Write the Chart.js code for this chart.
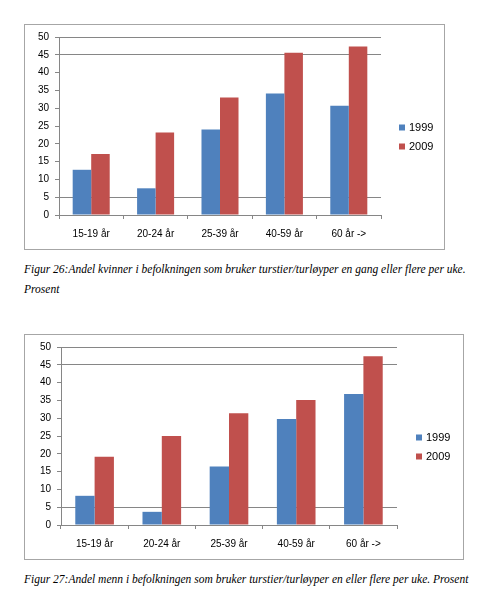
<!DOCTYPE html>
<html lang="no">
<head>
<meta charset="utf-8">
<title>Figur 26 og 27</title>
<script src="https://cdn.jsdelivr.net/npm/chart.js@4/dist/chart.umd.min.js"></script>
<style>
  html, body { margin: 0; padding: 0; background: #fff; }
  body { width: 499px; height: 595px; position: relative; overflow: hidden; }
  .frame { position: absolute; border: 1px solid #a6a6a6; background: #fff; }
  .frame canvas { display: block; }
  .caption {
    position: absolute; left: 24px; margin: 0;
    font: italic 11.5px "Liberation Serif", "Times New Roman", serif;
    color: #000; white-space: nowrap; line-height: 20px;
  }
</style>
</head>
<body>
<div class="frame" id="frame1" style="left:24px; top:24px; width:419px; height:224px;">
  <canvas id="chartWomen"></canvas>
</div>
<p class="caption" style="top:259px;">Figur 26:Andel kvinner i befolkningen som bruker turstier/turløyper en gang eller flere per uke.<br>Prosent</p>

<div class="frame" id="frame2" style="left:24px; top:334px; width:438px; height:224px;">
  <canvas id="chartMen"></canvas>
</div>
<p class="caption" style="top:569px;">Figur 27:Andel menn i befolkningen som bruker turstier/turløyper en eller flere per uke. Prosent</p>

<script>
const AGE_GROUPS = ['15-19 år', '20-24 år', '25-39 år', '40-59 år', '60 år ->'];
const YEARS = ['1999', '2009'];

// Figur 26 – kvinner
const WOMEN_1999 = [12.7, 7.5, 24.0, 34.1, 30.7];
const WOMEN_2009 = [17.1, 23.2, 33.0, 45.6, 47.3];

// Figur 27 – menn
const MEN_1999 = [8.2, 3.7, 16.4, 29.8, 36.8];
const MEN_2009 = [19.2, 25.0, 31.4, 35.1, 47.4];

const Y_TICKS = [0, 5, 10, 15, 20, 25, 30, 35, 40, 45, 50];
// only these gridlines survive in the scanned picture
const VISIBLE_GRID = [5, 45, 50];

const COLORS = ['#4f81bd', '#c0504d'];
const AXIS_GREY = '#868686';
const FONT = 'Liberation Sans, Arial, sans-serif';

// ── Legend drawn to the right of the plot ────────────────────────────────────

const sideLegend = {
  id: 'sideLegend',
  afterDraw(chart) {
    const { ctx, chartArea } = chart;
    const x = chartArea.right + chart.options.plugins.sideLegend.gap;
    const midY = chart.height / 2;
    const rowH = 19;
    const sets = chart.data.datasets;
    ctx.save();
    ctx.font = `11px ${FONT}`;
    ctx.textBaseline = 'middle';
    ctx.textAlign = 'left';
    sets.forEach((ds, i) => {
      const y = midY + (i - (sets.length - 1) / 2) * rowH;
      ctx.fillStyle = ds.backgroundColor;
      ctx.fillRect(x, y - 3, 6, 6);
      ctx.fillStyle = '#000';
      ctx.fillText(ds.label, x + 10, y + 0.5);
    });
    ctx.restore();
  },
};

function makeChart(canvasId, series, box) {
  const canvas = document.getElementById(canvasId);
  canvas.width = box.width;
  canvas.height = box.height;
  canvas.style.width = box.width + 'px';
  canvas.style.height = box.height + 'px';

  return new Chart(canvas.getContext('2d'), {
    type: 'bar',
    data: {
      labels: AGE_GROUPS,
      datasets: YEARS.map((yr, i) => ({
        label: yr,
        data: series[i],
        backgroundColor: COLORS[i],
        borderWidth: 0,
        categoryPercentage: 0.575,
        barPercentage: 1.0,
      })),
    },
    plugins: [sideLegend],
    options: {
      responsive: false,
      animation: false,
      devicePixelRatio: 1,
      layout: { padding: { top: box.top, right: box.right, left: 0, bottom: 0 } },
      plugins: {
        legend: { display: false },
        tooltip: { enabled: false },
        sideLegend: { gap: box.legendGap },
      },
      scales: {
        x: {
          offset: true,
          afterFit: s => { s.height = box.xAxisH; },
          ticks: {
            color: '#000',
            font: { family: FONT, size: 10 },
            maxRotation: 0,
            padding: 9,
          },
          grid: {
            offset: true,
            drawOnChartArea: false,
            drawTicks: true,
            tickLength: 4,
            color: AXIS_GREY,
          },
          border: { color: AXIS_GREY, width: 1 },
        },
        y: {
          min: 0,
          max: 50,
          afterFit: s => { s.width = box.yAxisW; },
          afterBuildTicks: s => { s.ticks = Y_TICKS.map(v => ({ value: v })); },
          ticks: {
            color: '#000',
            font: { family: FONT, size: 10 },
            padding: 6,
          },
          grid: {
            drawTicks: true,
            tickLength: 4,
            tickColor: AXIS_GREY,
            color: c => VISIBLE_GRID.includes(c.tick.value) ? AXIS_GREY : 'rgba(0,0,0,0)',
          },
          border: { color: AXIS_GREY, width: 1 },
        },
      },
    },
  });
}

document.addEventListener('DOMContentLoaded', () => {
  makeChart('chartWomen', [WOMEN_1999, WOMEN_2009], {
    width: 419, height: 224, top: 11, right: 63, yAxisW: 34, xAxisH: 34, legendGap: 18,
  });
  makeChart('chartMen', [MEN_1999, MEN_2009], {
    width: 438, height: 224, top: 12, right: 66, yAxisW: 36, xAxisH: 34, legendGap: 19,
  });
});
</script>
</body>
</html>
